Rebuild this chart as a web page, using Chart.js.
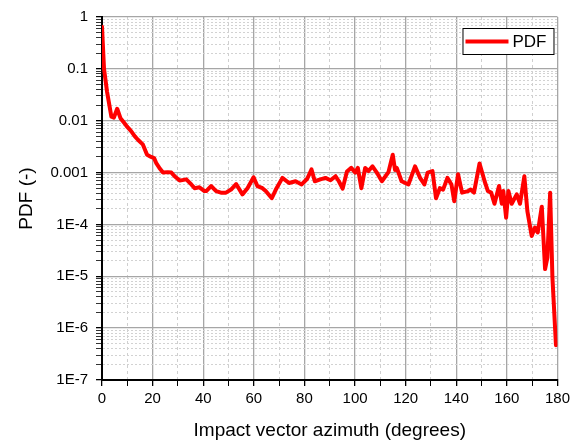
<!DOCTYPE html>
<html>
<head>
<meta charset="utf-8">
<title>PDF of impact vector azimuth</title>
<script src="https://cdn.jsdelivr.net/npm/chart.js@4/dist/chart.umd.min.js"></script>
<style>
  body { margin: 0; background: #fff; }
  canvas { display: block; }
</style>
</head>
<body>
<canvas id="pdfChart" width="574" height="446"></canvas>
<script>
// azimuth (degrees) and probability density at that azimuth
const azimuth = [0, 0.8, 2, 3.7, 4.7, 6, 7.3, 8.9, 10, 11.5, 13, 14.2, 16.1, 17.8, 19.4, 20.6, 21.5, 23, 24.1, 26,
  27.4, 28.7, 30.7, 33.3, 35.3, 36.6, 38.5, 40.5, 41.2, 43.1, 45.1, 47, 49, 51, 53, 55.5, 57.5, 59.9, 61.4, 63.4,
  64.7, 67.1, 68.7, 71.3, 73.9, 76.5, 78.9, 81.1, 82.8, 84.1, 86.3, 88.3, 90.3, 92.3, 93.6, 95.1, 96.8, 98.5, 100.1, 101.1,
  102.5, 104, 105.3, 106.9, 108.6, 110.6, 113.2, 114.9, 115.8, 116.5, 118.4, 121.1, 123.7, 125.7, 127.4, 128.7, 130.6, 132, 133.5, 134.8,
  136.5, 138.1, 139.2, 140.7, 142.3, 144.7, 145.7, 147, 149.2, 151.2, 152.5, 153.8, 155.1, 156.9, 158, 158.6, 159.7, 160.6, 161.9, 163.9,
  165.2, 166.9, 168.1, 169.8, 171.1, 172.2, 173.8, 175.1, 176, 177.1, 178, 179.4];
const pdf = [0.65, 0.1, 0.036, 0.012, 0.0115, 0.017, 0.0112, 0.0089, 0.0076, 0.0063, 0.005, 0.0043, 0.0035, 0.0022, 0.002, 0.0019, 0.0015, 0.00117, 0.001, 0.00102,
  0.001, 0.00085, 0.0007, 0.00074, 0.00059, 0.0005, 0.00052, 0.00044, 0.00044, 0.00055, 0.00044, 0.00041, 0.00041, 0.00047, 0.0006, 0.00038, 0.0005, 0.00081, 0.00055, 0.0005,
  0.00044, 0.00032, 0.00047, 0.00079, 0.00063, 0.00068, 0.00059, 0.00076, 0.00115, 0.00068, 0.00074, 0.00079, 0.00071, 0.00085, 0.00068, 0.00049, 0.00105, 0.00123, 0.001, 0.00123,
  0.0005, 0.00123, 0.00107, 0.00132, 0.001, 0.00068, 0.00102, 0.0022, 0.00112, 0.00123, 0.00068, 0.00059, 0.00132, 0.00079, 0.00059, 0.001, 0.00107, 0.00032, 0.0005, 0.00047,
  0.00079, 0.00059, 0.00028, 0.00093, 0.00041, 0.00044, 0.00047, 0.00041, 0.0015, 0.00068, 0.00044, 0.00041, 0.00025, 0.00055, 0.00025, 0.00044, 0.000135, 0.00044, 0.00025, 0.00038,
  0.00025, 0.00085, 0.00018, 0.00006, 0.000087, 0.00007, 0.00022, 0.0000138, 0.000023, 0.00041, 0.0000095, 4.7e-7];

const xTicks = [0, 20, 40, 60, 80, 100, 120, 140, 160, 180];
const yTickLabels = ['1E-7', '1E-6', '1E-5', '1E-4', '0.001', '0.01', '0.1', '1'];

const FONT = 'Arial, "Liberation Sans", sans-serif';

function isDecade(v) {
  const m = v / Math.pow(10, Math.round(Math.log10(v)));
  return Math.abs(m - 1) < 1e-6;
}

// boxed legend in the top right corner of the plot
const boxedLegend = {
  id: 'boxedLegend',
  afterDatasetsDraw(chart) {
    const { ctx, chartArea } = chart;
    const ds = chart.data.datasets[0];
    const w = 91, h = 26;
    const left = chartArea.right - w - 4, top = chartArea.top + 11;
    ctx.save();
    ctx.fillStyle = '#fff';
    ctx.fillRect(left, top, w, h);
    ctx.strokeStyle = '#000';
    ctx.lineWidth = 1;
    ctx.strokeRect(left + 0.5, top + 0.5, w, h);
    ctx.strokeStyle = ds.borderColor;
    ctx.lineWidth = 4;
    ctx.beginPath();
    ctx.moveTo(left + 3, top + h / 2 + 0.5);
    ctx.lineTo(left + 46, top + h / 2 + 0.5);
    ctx.stroke();
    ctx.fillStyle = '#000';
    ctx.font = '17px ' + FONT;
    ctx.textBaseline = 'middle';
    ctx.fillText(ds.label, left + 50, top + h / 2 + 1);
    ctx.restore();
  }
};

new Chart(document.getElementById('pdfChart'), {
  type: 'line',
  data: {
    datasets: [{
      label: 'PDF',
      data: azimuth.map((a, i) => ({ x: a, y: pdf[i] })),
      borderColor: '#ff0000',
      backgroundColor: '#ff0000',
      borderWidth: 4,
      borderJoinStyle: 'round',
      borderCapStyle: 'round',
      pointRadius: 0,
      tension: 0
    }]
  },
  options: {
    responsive: false,
    animation: false,
    layout: { padding: { top: 15, right: 13, left: 0, bottom: 0 } },
    plugins: { legend: { display: false }, tooltip: { enabled: false } },
    scales: {
      x: {
        type: 'linear',
        min: 0,
        max: 180,
        afterFit: s => { s.height = 66; },
        ticks: {
          stepSize: 10,
          autoSkip: false,
          maxRotation: 0,
          padding: 4,
          color: '#000',
          font: { family: FONT, size: 15 },
          callback: v => xTicks.includes(v) ? String(v) : ''
        },
        grid: {
          color: c => c.tick && xTicks.includes(c.tick.value) ? '#a6a6a6' : '#cfcfcf',
          lineWidth: c => c.tick && xTicks.includes(c.tick.value) ? 1.3 : 1,
          tickColor: '#000',
          tickLength: 6
        },
        border: {
          color: '#000',
          width: 2,
          dash: c => c.tick && !xTicks.includes(c.tick.value) ? [3, 3] : []
        },
        title: {
          display: true,
          text: 'Impact vector azimuth (degrees)',
          color: '#000',
          font: { family: FONT, size: 19 },
          padding: { top: 0, bottom: 4 }
        }
      },
      y: {
        type: 'logarithmic',
        min: 1e-7,
        max: 1,
        afterFit: s => { s.width = 102; },
        afterBuildTicks: s => {
          // keep 1..9 per decade only
          s.ticks = s.ticks.filter(t => {
            const m = t.value / Math.pow(10, Math.floor(Math.log10(t.value) + 1e-9));
            return Math.abs(m - Math.round(m)) < 1e-6;
          });
        },
        ticks: {
          autoSkip: false,
          padding: 8,
          color: '#000',
          font: { family: FONT, size: 15 },
          callback: v => {
            if (!isDecade(v)) return '';
            return yTickLabels[Math.round(Math.log10(v)) + 7];
          }
        },
        grid: {
          color: c => c.tick && isDecade(c.tick.value) ? '#a6a6a6' : '#d2d2d2',
          lineWidth: c => c.tick && isDecade(c.tick.value) ? 1.3 : 1,
          tickColor: c => c.tick && isDecade(c.tick.value) ? '#000' : '#333',
          tickLength: 6
        },
        border: {
          color: '#000',
          width: 2,
          dash: c => c.tick && !isDecade(c.tick.value) ? [2, 2] : []
        },
        title: {
          display: true,
          text: 'PDF (-)',
          color: '#000',
          font: { family: FONT, size: 19 },
          padding: { top: 15, bottom: 0 }
        }
      }
    }
  },
  plugins: [boxedLegend]
});
</script>
</body>
</html>
